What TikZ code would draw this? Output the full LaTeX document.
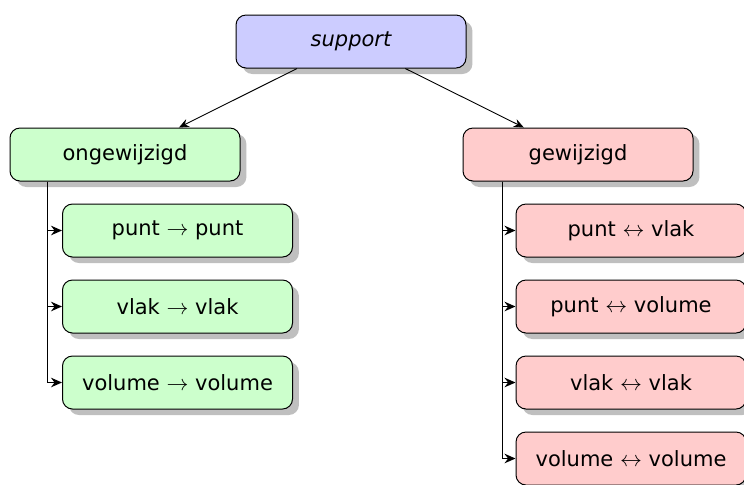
\documentclass[tikz,border=0pt]{standalone}
\usepackage{fontspec}
\setmainfont{DejaVu Sans}
\usetikzlibrary{shadows,arrows.meta}
\definecolor{cblue}{RGB}{204,204,255}
\definecolor{cgreen}{RGB}{204,255,204}
\definecolor{cred}{RGB}{255,204,204}
\begin{document}
\begin{tikzpicture}[x=0.5pt,y=-0.5pt,
  box/.style={draw=black, line width=0.5pt, rounded corners=5pt,
    minimum width=115pt, minimum height=26.5pt, inner sep=0pt,
    font=\fontsize{10.5}{12}\selectfont,
    drop shadow={shadow xshift=3.2pt, shadow yshift=-3pt, fill=black!25, opacity=1}},
  bluebox/.style={box, fill=cblue},
  greenbox/.style={box, fill=cgreen},
  redbox/.style={box, fill=cred},
  conn/.style={draw=black, line width=0.45pt, -{Stealth[length=5pt,width=4.2pt]}},
  treeconn/.style={draw=black, line width=0.65pt, -{Stealth[length=5.5pt,width=4.8pt]}}
]
\useasboundingbox (0,0) rectangle (744,484);
\node[bluebox] (sup) at (351,41.5) {\itshape support};
\node[greenbox] (ong) at (125,154.5) {ongewijzigd};
\node[redbox] (gew) at (578,154.5) {gewijzigd};

\node[greenbox] (l1) at (177.5,230.5) {punt $\rightarrow$ punt};
\node[greenbox] (l2) at (177.5,306.5) {vlak $\rightarrow$ vlak};
\node[greenbox] (l3) at (177.5,382.5) {volume $\rightarrow$ volume};

\node[redbox] (r1) at (631,230.5) {punt $\leftrightarrow$ vlak};
\node[redbox] (r2) at (631,306.5) {punt $\leftrightarrow$ volume};
\node[redbox] (r3) at (631,382.5) {vlak $\leftrightarrow$ vlak};
\node[redbox] (r4) at (631,458.5) {volume $\leftrightarrow$ volume};

\draw[conn] (sup) -- (ong);
\draw[conn] (sup) -- (gew);

\foreach \c in {l1,l2,l3}
  \draw[treeconn] (ong.south west) ++(38,0) |- (\c.west);
\foreach \c in {r1,r2,r3,r4}
  \draw[treeconn] (gew.south west) ++(40,0) |- (\c.west);
\end{tikzpicture}
\end{document}
